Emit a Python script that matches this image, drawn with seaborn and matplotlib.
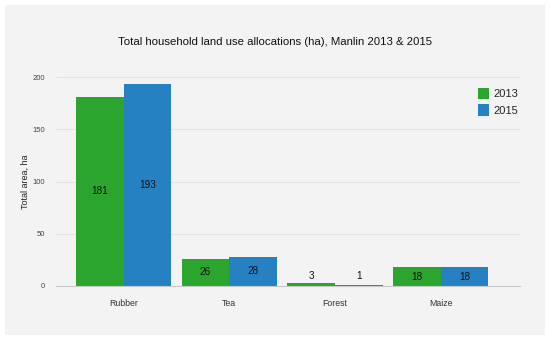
import matplotlib
matplotlib.use("Agg")
import matplotlib.pyplot as plt
import seaborn as sns
import pandas as pd
from matplotlib.patches import Rectangle

crops = ["Rubber", "Tea", "Forest", "Maize"]
years = ["2013", "2015"]
area_2013 = [181, 26, 3, 18]
area_2015 = [193, 28, 1, 18]
colors = ["#2ba52e", "#2581c2"]

df = pd.DataFrame({
    "crop": crops * 2,
    "year": [years[0]] * 4 + [years[1]] * 4,
    "area": area_2013 + area_2015,
})

sns.set_theme(style="white")
plt.rcParams["font.family"] = ["Liberation Sans", "DejaVu Sans"]

fig = plt.figure(figsize=(5.5, 3.4), dpi=100, facecolor="white")
bg = "#f3f3f3"
fig.patches.append(Rectangle((5 / 550, 5 / 340), 540 / 550, 330 / 340,
                             transform=fig.transFigure, facecolor=bg,
                             edgecolor="none", zorder=-10))
ax = fig.add_axes([56 / 550, 1 - 286 / 340, 464 / 550, 209 / 340])
ax.set_facecolor(bg)

sns.barplot(data=df, x="crop", y="area", hue="year", palette=colors,
            width=0.9, saturation=1, ax=ax, legend=True, linewidth=0,
            edgecolor="none")

ax.set_ylim(0, 200)
ax.set_xlim(-0.64, 3.75)
ax.set_yticks([0, 50, 100, 150, 200])
ax.yaxis.grid(True, color="#e4e4e4", linewidth=0.8)
ax.set_axisbelow(True)
for s in ["top", "right", "left"]:
    ax.spines[s].set_visible(False)
ax.spines["bottom"].set_color("#c8c8c8")
ax.spines["bottom"].set_linewidth(0.8)
ax.spines["bottom"].set_zorder(5)
ax.tick_params(axis="y", length=0, pad=8, labelsize=5.5, labelcolor="#444444")
ax.tick_params(axis="x", length=0, pad=9, labelsize=6.3, labelcolor="#333333")
ax.set_xlabel("")
ax.set_ylabel("Total area, ha", fontsize=6.5, color="#222222", labelpad=0)
ax.yaxis.set_label_coords(-26 / 464, 0.5)

for cont in ax.containers:
    for p in cont:
        h = p.get_height()
        cx = p.get_x() + p.get_width() / 2
        if h >= 10:
            ax.text(cx, h / 2, f"{h:.0f}", ha="center", va="center",
                    fontsize=7.2, color="#111111")
        else:
            ax.text(cx, max(h, 3) + 2, f"{h:.0f}", ha="center", va="bottom",
                    fontsize=7.2, color="#111111")

leg = ax.legend(loc="upper left", bbox_to_anchor=(422 / 464, 1 - 11 / 209),
                frameon=False, borderaxespad=0, borderpad=0,
                fontsize=8, handlelength=1.0, handleheight=1.2,
                handletextpad=0.4, labelspacing=0.45)

fig.text(0.5, 1 - 42 / 340, "Total household land use allocations (ha), Manlin 2013 & 2015",
         ha="center", va="center", fontsize=8.2, color="#111111")

fig.savefig("out.png", dpi=100, facecolor="white")
